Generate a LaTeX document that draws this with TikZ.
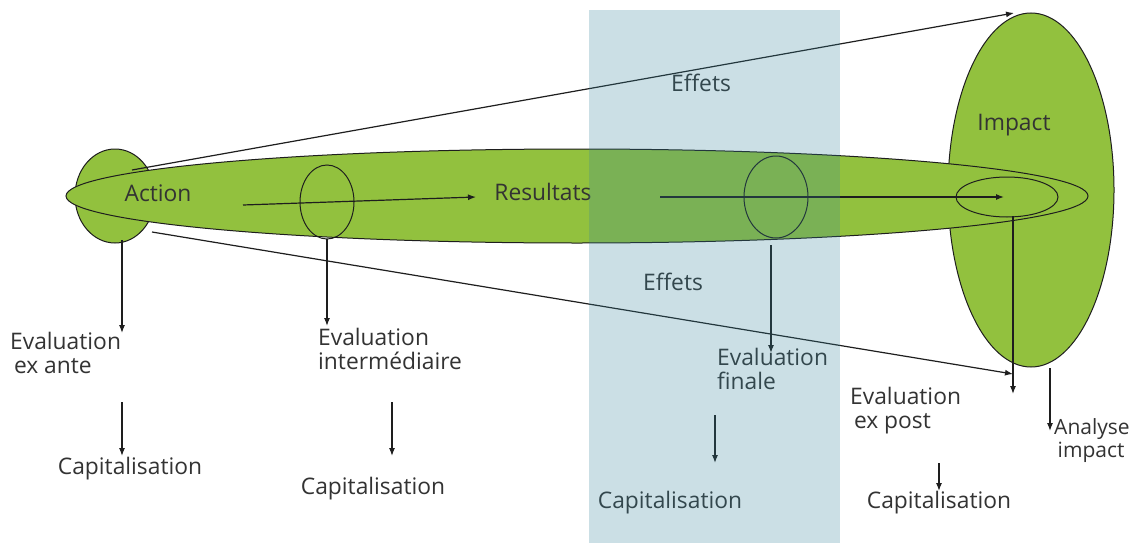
\documentclass[tikz,border=0pt]{standalone}
\usepackage{fontspec}
\setmainfont{Open Sans}
\usetikzlibrary{arrows.meta,shapes.geometric}
\definecolor{lgreen}{RGB}{146,193,62}
\definecolor{rectblue}{RGB}{51,131,155}
\definecolor{linec}{RGB}{30,30,30}
\begin{document}
\begin{tikzpicture}[x=1pt,y=-1pt,
  lbl/.style={font=\fontsize{22.8}{24}\selectfont, text=black!80, inner sep=0pt},
  ml/.style={lbl, align=left, anchor=north west},
  shp/.style={ellipse, draw=linec, line width=1pt, inner sep=0pt},
  arr/.style={draw=linec, line width=1.2pt, -{Latex[length=8pt,width=6pt]}}]
\useasboundingbox (0,0) rectangle (1134,543);
\fill[white] (0,0) rectangle (1134,543);
% shapes
\node[shp, fill=lgreen, minimum width=166pt, minimum height=354pt] (impact) at (1031,190) {};
\node[shp, fill=lgreen, minimum width=80pt, minimum height=94pt] (actell) at (115,196) {};
\node[shp, fill=lgreen, minimum width=1022pt, minimum height=94pt] (long) at (577,196) {};
\node[shp, minimum width=54pt, minimum height=74pt] (inter) at (327,202) {};
\node[shp, minimum width=64pt, minimum height=82pt] (fin) at (776,197) {};
\node[shp, minimum width=102pt, minimum height=40pt] (inner) at (1007,197) {};
% texts
\node[lbl] (action) at (158,193) {Action};
\node[lbl] (res) at (543,192) {Resultats};
\node[lbl] (eff1) at (701,83) {Effets};
\node[lbl] (eff2) at (673,282) {Effets};
\node[lbl] (imp) at (1014,125) {Impact};
\node[ml] (ea) at (10,332) {Evaluation\\ \,ex ante};
\node[ml] (ei) at (318,328) {Evaluation\\intermédiaire};
\node[ml] (ef) at (717,348) {Evaluation\\finale};
\node[ml] (ep) at (850,387) {Evaluation\\ \,ex post};
\node[ml, font=\fontsize{21}{23}\selectfont] (ai) at (1054,418) {Analyse\\ \,impact};
\node[lbl] (c1) at (130,469) {Capitalisation};
\node[lbl] (c2) at (373,489) {Capitalisation};
\node[lbl] (c3) at (670,503) {Capitalisation};
\node[lbl] (c4) at (939,503) {Capitalisation};
% coordinates
\coordinate (uS) at (132,170); \coordinate (uE) at (1014,13);
\coordinate (lS) at (152,232); \coordinate (lE) at (1013,374);
\coordinate (h1S) at (243,205); \coordinate (h1E) at (476,197);
\coordinate (h2S) at (660,197); \coordinate (h2E) at (1004,197);
\coordinate (a1) at (122,240); \coordinate (a1e) at (122,333);
\coordinate (a2) at (327,239); \coordinate (a2e) at (327,326);
\coordinate (a3) at (771,245); \coordinate (a3e) at (771,353);
\coordinate (a4) at (1013,216); \coordinate (a4e) at (1013,394);
\coordinate (a5) at (1050,368); \coordinate (a5e) at (1050,431);
\coordinate (b1) at (122,402); \coordinate (b1e) at (122,456);
\coordinate (b2) at (392,402); \coordinate (b2e) at (392,456);
\coordinate (b3) at (715,415); \coordinate (b3e) at (715,463);
\coordinate (b4) at (939,463); \coordinate (b4e) at (939,491);
% connectors
\draw[arr] (uS) -- (uE);
\draw[arr] (lS) -- (lE);
\draw[arr] (h1S) -- (h1E);
\draw[arr] (h2S) -- (h2E);
\foreach \s/\e in {a1/a1e,a2/a2e,a3/a3e,a4/a4e,a5/a5e,b1/b1e,b2/b2e,b3/b3e,b4/b4e}
  \draw[arr] (\s) -- (\e);
% translucent band
\fill[rectblue, opacity=0.25] (589,10) rectangle (840,543);
\end{tikzpicture}
\end{document}
